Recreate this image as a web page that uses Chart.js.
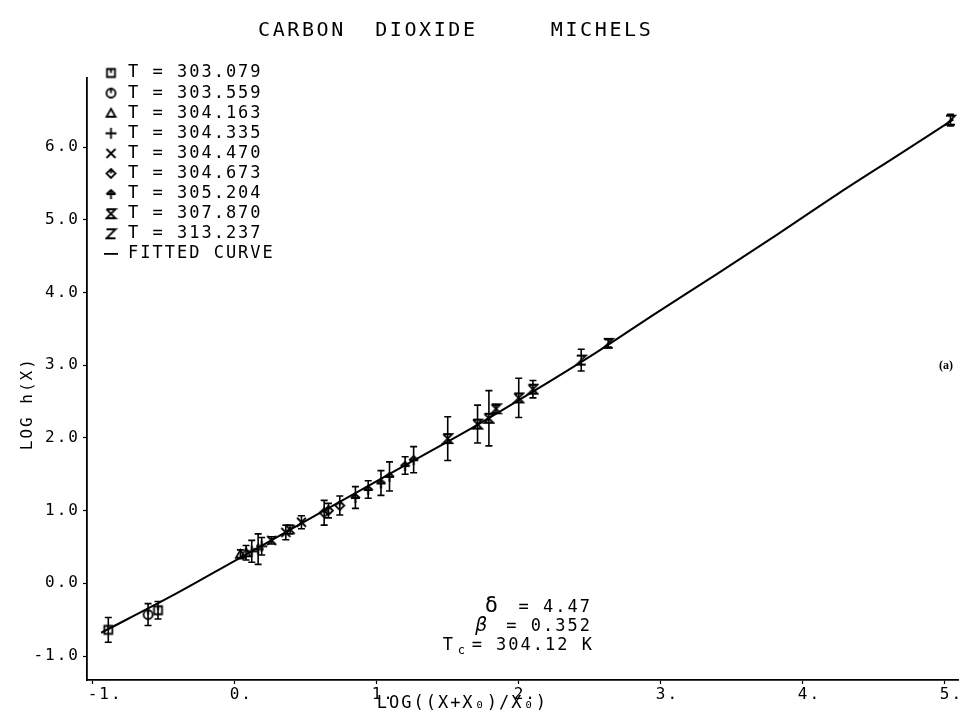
<!DOCTYPE html>
<html>
<head>
<meta charset="utf-8">
<script src="https://cdn.jsdelivr.net/npm/chart.js@4.4.1/dist/chart.umd.min.js"></script>
<style>
  html, body { margin: 0; padding: 0; background: #fff; overflow: hidden; }
  #wrap { width: 959px; height: 714px; }
  canvas { display: block; }
</style>
</head>
<body>
<div id="wrap"><canvas id="c" width="959" height="714"></canvas></div>
<script>
// axes
const xTicks = [-1, 0, 1, 2, 3, 4, 5];
const xTickLabels = ['-1.', '0.', '1.', '2.', '3.', '4.', '5.'];
const yTicks = [-1, 0, 1, 2, 3, 4, 5, 6];
const yTickLabels = ['-1.0', '0.0', '1.0', '2.0', '3.0', '4.0', '5.0', '6.0'];

// isotherm temperatures (legend)
const temps = ['303.079', '303.559', '304.163', '304.335', '304.470', '304.673', '305.204', '307.870', '313.237'];

const x303079 = [-0.89, -0.54];
const y303079 = [-0.64, -0.37];
const e303079 = [0.17, 0.12];

const x303559 = [-0.61];
const y303559 = [-0.43];
const e303559 = [0.15];

const x304163 = [0.04, 0.08];
const y304163 = [0.40, 0.42];
const e304163 = [0.06, 0.10];

const x304335 = [0.12, 0.165, 0.19];
const y304335 = [0.44, 0.47, 0.51];
const e304335 = [0.15, 0.21, 0.12];

const x304470 = [0.26, 0.36, 0.39, 0.47];
const y304470 = [0.59, 0.70, 0.74, 0.84];
const e304470 = [0.05, 0.10, 0.06, 0.09];

const x304673 = [0.63, 0.66, 0.74];
const y304673 = [0.97, 1.00, 1.07];
const e304673 = [0.17, 0.10, 0.13];

const x305204 = [0.85, 0.94, 1.03, 1.09, 1.20, 1.26];
const y305204 = [1.18, 1.29, 1.38, 1.47, 1.62, 1.70];
const e305204 = [0.15, 0.12, 0.17, 0.20, 0.12, 0.18];

const x307870 = [1.50, 1.71, 1.79, 1.84, 2.00, 2.10];
const y307870 = [1.99, 2.19, 2.27, 2.40, 2.55, 2.67];
const e307870 = [0.30, 0.26, 0.38, 0.05, 0.27, 0.12];

const x313237 = [2.44, 2.63, 5.04];
const y313237 = [3.07, 3.30, 6.37];
const e313237 = [0.15, 0.05, 0.08];

// fitted curve
const fitX = [-0.94, -0.43, 0, 0.42, 0.85, 1.27, 1.70, 2.12, 2.55, 2.97, 3.40, 3.83, 4.25, 4.68, 5.06];
const fitY = [-0.68, -0.16, 0.31, 0.77, 1.24, 1.70, 2.17, 2.66, 3.18, 3.72, 4.26, 4.81, 5.36, 5.90, 6.38];

const FONT = "'DejaVu Sans Mono', monospace";

// plotter-like marker glyphs
function glyph(draw, fill) {
  const c = document.createElement('canvas');
  c.width = 13; c.height = 13;
  const g = c.getContext('2d');
  g.strokeStyle = '#000';
  g.fillStyle = '#000';
  g.lineWidth = 1.8;
  g.beginPath();
  draw(g);
  g.stroke();
  if (fill) g.fill();
  return c;
}
const markers = [
  glyph((g) => { g.rect(2.5, 2.5, 8, 8); g.moveTo(6.5, 2.5); g.lineTo(6.5, 6.5); }),
  glyph((g) => { g.arc(6.5, 6.5, 4.5, 0, Math.PI * 2); g.moveTo(6.5, 2); g.lineTo(6.5, 6.5); }),
  glyph((g) => { g.moveTo(6.5, 2); g.lineTo(11, 10); g.lineTo(2, 10); g.closePath(); }),
  glyph((g) => { g.moveTo(6.5, 1); g.lineTo(6.5, 12); g.moveTo(1, 6.5); g.lineTo(12, 6.5); }),
  glyph((g) => { g.moveTo(2, 2); g.lineTo(11, 11); g.moveTo(11, 2); g.lineTo(2, 11); }),
  glyph((g) => { g.moveTo(6.5, 2); g.lineTo(11, 6.5); g.lineTo(6.5, 11); g.lineTo(2, 6.5); g.closePath(); g.moveTo(6.5, 2); g.lineTo(6.5, 6.5); }),
  glyph((g) => { g.moveTo(6.5, 2); g.lineTo(6.5, 12); g.moveTo(2, 7); g.lineTo(6.5, 3); g.lineTo(11, 7); g.moveTo(2, 7); g.lineTo(11, 7); }),
  glyph((g) => { g.moveTo(2, 2); g.lineTo(11, 2); g.lineTo(2, 11); g.lineTo(11, 11); g.lineTo(2, 2); }),
  glyph((g) => { g.moveTo(2, 2); g.lineTo(11, 2); g.lineTo(2, 11); g.lineTo(11, 11); }),
];

const seriesX = [x303079, x303559, x304163, x304335, x304470, x304673, x305204, x307870, x313237];
const seriesY = [y303079, y303559, y304163, y304335, y304470, y304673, y305204, y307870, y313237];
const seriesE = [e303079, e303559, e304163, e304335, e304470, e304673, e305204, e307870, e313237];

const pointSets = temps.map((t, i) => ({
  label: 'T = ' + t,
  data: seriesX[i].map((x, j) => ({ x, y: seriesY[i][j] })),
  errs: seriesE[i],
  pointStyle: markers[i],
  pointRadius: 6,
  showLine: false,
}));

const fitSet = {
  type: 'line',
  label: 'FITTED CURVE',
  data: fitX.map((x, i) => ({ x, y: fitY[i] })),
  borderColor: '#000',
  borderWidth: 2,
  pointRadius: 0,
  cubicInterpolationMode: 'monotone',
  fill: false,
};

// wide plotter lettering
const spacing = {
  id: 'spacing',
  beforeLayout(chart) { chart.ctx.letterSpacing = '2px'; },
  beforeDraw(chart) { chart.ctx.letterSpacing = '2px'; },
};

// vertical error bars with caps, through the scales
const errorBars = {
  id: 'errorBars',
  afterDatasetsDraw(chart) {
    const { ctx, scales: { x, y } } = chart;
    ctx.save();
    ctx.strokeStyle = '#000';
    ctx.lineWidth = 1.6;
    chart.data.datasets.forEach((ds) => {
      if (!ds.errs) return;
      ds.data.forEach((p, j) => {
        const px = x.getPixelForValue(p.x);
        const lo = y.getPixelForValue(p.y - ds.errs[j]);
        const hi = y.getPixelForValue(p.y + ds.errs[j]);
        ctx.beginPath();
        ctx.moveTo(px, lo); ctx.lineTo(px, hi);
        ctx.moveTo(px - 3.5, lo); ctx.lineTo(px + 3.5, lo);
        ctx.moveTo(px - 3.5, hi); ctx.lineTo(px + 3.5, hi);
        ctx.stroke();
      });
    });
    ctx.restore();
  },
};

// title, legend block, fit parameters and axis titles
const labels = {
  id: 'labels',
  afterDraw(chart) {
    const { ctx, scales: { x, y } } = chart;
    ctx.save();
    ctx.fillStyle = '#000';
    ctx.strokeStyle = '#000';
    ctx.textBaseline = 'middle';

    ctx.font = '20px ' + FONT;
    ctx.letterSpacing = '2.6px';
    ctx.fillText('CARBON  DIOXIDE     MICHELS', 258, 31);

    ctx.font = '17px ' + FONT;
    ctx.letterSpacing = '2px';
    temps.forEach((t, i) => {
      const yy = 73 + i * 20.1;
      ctx.drawImage(markers[i], 111 - 6.5, yy - 6.5);
      ctx.fillText('T = ' + t, 128, yy);
    });
    const yy = 73 + 9 * 20.1;
    ctx.lineWidth = 1.8;
    ctx.beginPath(); ctx.moveTo(104, yy); ctx.lineTo(118, yy); ctx.stroke();
    ctx.fillText('FITTED CURVE', 128, yy);

    // fit parameters
    ctx.textAlign = 'right';
    ctx.fillText('= 4.47', 592, 608);
    ctx.fillText('= 0.352', 592, 627);
    ctx.fillText('= 304.12 K', 594, 646);
    ctx.font = '22px ' + FONT;
    ctx.fillText('\u03b4', 500, 606);
    ctx.font = 'italic 19px ' + FONT;
    ctx.fillText('\u03b2', 489, 626);
    ctx.font = '17px ' + FONT;
    ctx.fillText('T', 455, 646);
    ctx.font = '12px ' + FONT;
    ctx.fillText('c', 467, 651);

    // axis titles
    ctx.textAlign = 'left';
    ctx.font = '17px ' + FONT;
    ctx.fillText('LOG((X+X\u2080)/X\u2080)', x.getPixelForValue(1.0), 704);
    ctx.textAlign = 'center';
    ctx.save();
    ctx.translate(28, y.getPixelForValue(2.47));
    ctx.rotate(-Math.PI / 2);
    ctx.font = '16px ' + FONT;
    ctx.fillText('LOG h(X)', 0, 0);
    ctx.restore();

    // panel mark
    ctx.letterSpacing = '0px';
    ctx.font = 'bold 12px "Liberation Serif", serif';
    ctx.textAlign = 'left';
    ctx.fillText('(a)', 939, 366);
    ctx.restore();
  },
};

const axisBase = {
  type: 'linear',
  grid: { drawOnChartArea: false, color: '#000', tickColor: '#000', tickLength: 4, tickWidth: 1.2 },
  border: { color: '#000', width: 1.8 },
};

new Chart(document.getElementById('c'), {
  type: 'scatter',
  data: { datasets: [...pointSets, fitSet] },
  options: {
    responsive: false,
    animation: false,
    layout: { autoPadding: false, padding: { top: 78, left: 0, right: 0, bottom: 0 } },
    plugins: {
      legend: { display: false },
      tooltip: { enabled: false },
      title: { display: false },
    },
    scales: {
      x: {
        ...axisBase,
        min: -1.04,
        max: 5.10,
        afterBuildTicks: (s) => { s.ticks = xTicks.map((v) => ({ value: v })); },
        afterFit: (s) => { s.height = 34; s.paddingLeft = 0; s.paddingRight = 0; },
        ticks: {
          align: 'start',
          autoSkip: false,
          maxRotation: 0,
          padding: 1,
          labelOffset: -5,
          color: '#000',
          font: { family: FONT, size: 16 },
          callback: (v) => xTickLabels[xTicks.indexOf(v)],
        },
      },
      y: {
        ...axisBase,
        min: -1.33,
        max: 6.95,
        afterBuildTicks: (s) => { s.ticks = yTicks.map((v) => ({ value: v })); },
        afterFit: (s) => { s.width = 87; s.paddingTop = 0; s.paddingBottom = 0; },
        ticks: {
          autoSkip: false,
          padding: 3,
          color: '#000',
          font: { family: FONT, size: 16 },
          callback: (v) => yTickLabels[yTicks.indexOf(v)],
        },
      },
    },
  },
  plugins: [spacing, errorBars, labels],
});
</script>
</body>
</html>
